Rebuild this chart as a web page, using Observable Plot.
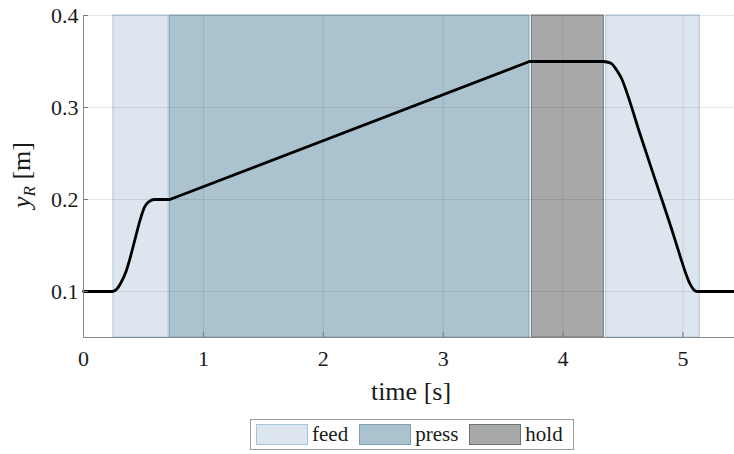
<!DOCTYPE html>
<html>
<head>
<meta charset="utf-8">
<script src="https://cdn.jsdelivr.net/npm/d3@7"></script>
<script src="https://cdn.jsdelivr.net/npm/@observablehq/plot@0.6"></script>
<style>
body { margin: 0; background: #fff; }
#chart { position: absolute; left: 0; top: 0; width: 734px; }
#legend { position: absolute; left: 250px; top: 419px; width: 324px; height: 31px; box-sizing: border-box;
  border: 1.5px solid #9c9c9c; background: #fff; display: flex; align-items: center; padding-left: 5px;
  font-size: 21px; color: #1a1a1a; }
#legend .sw { width: 52px; height: 21px; box-sizing: border-box; margin-right: 4px; flex: none; }
#legend .lab { margin-right: 11px; line-height: 21px; }
</style>
</head>
<body>
<div id="chart"></div>
<div id="legend" style="font-family: 'Liberation Serif'"></div>
<script>
// Phases (time intervals, s)
const phaseNames = ["feed", "press", "hold", "feed"];
const phaseStart = [0.25, 0.72, 3.74, 4.36];
const phaseEnd   = [0.71, 3.72, 4.34, 5.14];

// Trajectory y_R(t), split in three pieces
const timeS   = [0, 0.24, 0.28, 0.31, 0.35, 0.39, 0.43, 0.475, 0.51, 0.55, 0.59, 0.72,
                 0.72, 3.72, 4.34,
                 4.34, 4.40, 4.43, 4.46, 4.49, 4.53, 4.64, 4.78, 4.92, 4.98, 5.02, 5.06, 5.09, 5.12, 5.45];
const yR      = [0.1, 0.1, 0.103, 0.109, 0.12, 0.137, 0.157, 0.179, 0.192, 0.198, 0.2, 0.2,
                 0.2, 0.35, 0.35,
                 0.35, 0.348, 0.344, 0.338, 0.331, 0.317, 0.272, 0.217, 0.162, 0.137, 0.121, 0.108, 0.102, 0.1, 0.1];
const segment = ["feed1","feed1","feed1","feed1","feed1","feed1","feed1","feed1","feed1","feed1","feed1","feed1",
                 "linear","linear","linear",
                 "feed2","feed2","feed2","feed2","feed2","feed2","feed2","feed2","feed2","feed2","feed2","feed2","feed2","feed2","feed2"];

const xTicks = [0, 1, 2, 3, 4, 5];
const yTicks = [0.1, 0.2, 0.3, 0.4];

const legendNames = ["feed", "press", "hold"];
const fills   = {feed: "#dde6ee", press: "#abc3cf", hold: "#a7a9aa"};
const strokes = {feed: "#a9c4d6", press: "#7c9fb4", hold: "#6f7273"};

const phases = phaseNames.map((n, i) => ({name: n, x1: phaseStart[i], x2: phaseEnd[i]}));
const traj = timeS.map((t, i) => ({t, y: yR[i], seg: segment[i]}));

const W = 734, H = 412;
const FONT = "'Liberation Serif'";
const plot = Plot.plot({
  width: W, height: H,
  marginLeft: 83, marginRight: 0, marginTop: 15, marginBottom: 75,
  style: {fontSize: "22px", color: "#1a1a1a", background: "transparent"},
  x: {domain: [0, 5.43], ticks: xTicks, label: null},
  y: {domain: [0.05, 0.4], ticks: yTicks, label: null},
  marks: [
    Plot.rectY(phases, {x1: "x1", x2: "x2", y1: 0.05, y2: 0.4,
      fill: d => fills[d.name], stroke: d => strokes[d.name], strokeWidth: 1}),
    Plot.gridX(xTicks, {stroke: "#000", strokeOpacity: 0.09, strokeWidth: 1}),
    Plot.gridY(yTicks, {stroke: "#000", strokeOpacity: 0.09, strokeWidth: 1}),
    Plot.line(traj.filter(d => d.seg !== "linear"), {x: "t", y: "y", z: "seg", stroke: "#000", strokeWidth: 2.8, curve: "monotone-x"}),
    Plot.line(traj.filter(d => d.seg === "linear"), {x: "t", y: "y", stroke: "#000", strokeWidth: 2.8, curve: "linear"}),
    Plot.axisX(xTicks, {tickSize: -5, tickPadding: 18, stroke: "#777", fill: "#1a1a1a", fontSize: 22, tickFormat: d => String(d)}),
    Plot.axisY(yTicks, {tickSize: -5, tickPadding: 10, stroke: "#777", fill: "#1a1a1a", fontSize: 22, tickFormat: d => d.toFixed(1)}),
    Plot.ruleX([0], {stroke: "#888", strokeWidth: 1}),
    Plot.ruleY([0.05], {stroke: "#888", strokeWidth: 1})
  ]
});
plot.style.fontFamily = FONT;
document.getElementById("chart").appendChild(plot);

const svg = d3.select(plot);
// x label
svg.append("text").attr("x", 411).attr("y", 400).attr("text-anchor", "middle")
  .attr("font-size", 26).attr("fill", "#1a1a1a").text("time [s]");
// y label with subscript
const yl = svg.append("text").attr("transform", "translate(30,175) rotate(-90)")
  .attr("text-anchor", "middle").attr("font-size", 26).attr("fill", "#1a1a1a");
yl.append("tspan").attr("font-style", "italic").text("y");
yl.append("tspan").attr("font-style", "italic").attr("font-size", 17).attr("dy", 5).text("R");
yl.append("tspan").attr("dy", -5).text(" [m]");
plot.querySelectorAll("text, tspan").forEach(el => el.style.fontFamily = FONT);

// legend
const leg = document.getElementById("legend");
legendNames.forEach(n => {
  const sw = document.createElement("span");
  sw.className = "sw";
  sw.style.background = fills[n];
  sw.style.border = "1.5px solid " + strokes[n];
  const lb = document.createElement("span");
  lb.className = "lab";
  lb.textContent = n;
  lb.style.fontFamily = FONT;
  leg.appendChild(sw); leg.appendChild(lb);
});
</script>
</body>
</html>
